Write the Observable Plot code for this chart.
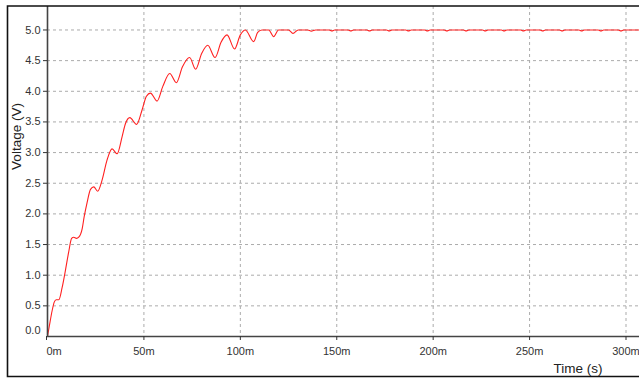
<!DOCTYPE html>
<html>
<head>
<meta charset="utf-8">
<script src="https://cdn.jsdelivr.net/npm/d3@7"></script>
<script src="https://cdn.jsdelivr.net/npm/@observablehq/plot@0.6"></script>
<style>
  html, body { margin: 0; padding: 0; background: #fff; }
</style>
</head>
<body>
<div id="chart"></div>
<script>
// Time in milliseconds and voltage in volts
const timeMs = [
  0, 1, 2.4, 3.5, 4.5, 5.9, 7.6, 9.3, 11, 12.5, 13.6, 15, 16.2, 18, 19, 20.5, 22.3, 24,
  26, 28.3, 30.9, 33.5, 36.1, 38.7, 40.4, 42.7, 46.2, 49, 51.3, 53.4, 56.8, 59.8, 63.4,
  66.8, 70, 73.7, 76.8, 80, 83.1, 86.9, 90, 93.1, 97, 100, 102.6, 106.9, 109, 111.2,
  114.7, 117.3, 119.8, 125, 127.3, 130, 135, 136.8, 139,
  146.1, 147.5, 148.9, 155.9, 157.3, 158.7, 165.6, 167, 168.4, 175.8, 177.2, 178.6,
  185.8, 187.2, 188.6, 195.6, 197, 198.4, 205.7, 207.1, 208.5, 215.7, 217.1, 218.5,
  225.6, 227, 228.4, 235.4, 236.8, 238.2, 245.4, 246.8, 248.2, 255.4, 256.8, 258.2,
  265.5, 266.9, 268.3, 275.6, 277, 278.4, 285.6, 287, 288.4, 296, 297.4, 298.8, 307
];
const voltage = [
  0, 0.18, 0.42, 0.56, 0.60, 0.60, 0.80, 1.08, 1.38, 1.60, 1.62, 1.60, 1.62, 1.76, 1.95, 2.18, 2.40, 2.44,
  2.37, 2.55, 2.88, 3.06, 2.98, 3.26, 3.47, 3.57, 3.46, 3.69, 3.92, 3.97, 3.84, 4.08, 4.29,
  4.14, 4.40, 4.55, 4.36, 4.62, 4.75, 4.55, 4.80, 4.92, 4.69, 4.92, 5.00, 4.81, 4.96, 5.00,
  5.00, 4.89, 5.00, 5.00, 4.945, 5.00, 5.00, 4.98, 5.00,
  5.00, 4.985, 5.00, 5.00, 4.985, 5.00, 5.00, 4.985, 5.00, 5.00, 4.985, 5.00,
  5.00, 4.985, 5.00, 5.00, 4.985, 5.00, 5.00, 4.985, 5.00, 5.00, 4.985, 5.00,
  5.00, 4.985, 5.00, 5.00, 4.985, 5.00, 5.00, 4.985, 5.00, 5.00, 4.985, 5.00,
  5.00, 4.985, 5.00, 5.00, 4.985, 5.00, 5.00, 4.985, 5.00, 5.00, 4.985, 5.00, 5.00
];

const xTicks = [0, 50, 100, 150, 200, 250, 300];
const xTickLabels = ["0m", "50m", "100m", "150m", "200m", "250m", "300m"];
const yTicks = [0, 0.5, 1, 1.5, 2, 2.5, 3, 3.5, 4, 4.5, 5];
const yTickLabels = ["0.0", "0.5", "1.0", "1.5", "2.0", "2.5", "3.0", "3.5", "4.0", "4.5", "5.0"];
const xTitle = "Time (s)";
const yTitle = "Voltage (V)";

const data = timeMs.map((t, i) => ({t, v: voltage[i]}));
const xLabel = d => xTickLabels[xTicks.indexOf(d)];
const yLabel = d => yTickLabels[yTicks.indexOf(d)];

const gridStyle = {stroke: "#ababab", strokeOpacity: 1, strokeDasharray: "3,3"};
const axisColor = "#333";

const chart = Plot.plot({
  width: 639,
  height: 378,
  marginLeft: 47,
  marginRight: 0,
  marginTop: 6,
  marginBottom: 42,
  x: {domain: [0, 307]},
  y: {domain: [0, 5.383]},
  style: {fontFamily: "'Liberation Sans', Arial, sans-serif", fontSize: "11px", background: "#fff", color: "#222"},
  marks: [
    Plot.gridX(xTicks.slice(1), gridStyle),
    Plot.gridY(yTicks.slice(1), gridStyle),
    Plot.line(data, {x: "t", y: "v", stroke: "#ff2020", strokeWidth: 1.1, curve: "monotone-x"}),
    Plot.ruleX([0], {stroke: "#444", strokeWidth: 1.6}),
    Plot.ruleY([0], {stroke: "#444", strokeWidth: 1.6}),
    Plot.axisX(xTicks.slice(1), {tickSize: 4, tickPadding: 7, tickFormat: xLabel, label: null, color: axisColor, fontSize: 11}),
    Plot.axisX([0], {tickSize: 4, tickPadding: 7, tickFormat: xLabel, label: null, color: axisColor, fontSize: 11, textAnchor: "start", dx: -1}),
    Plot.axisY(yTicks.slice(1), {tickSize: 4, tickPadding: 3, tickFormat: yLabel, label: null, color: axisColor, fontSize: 11}),
    Plot.axisY([0], {tickSize: 0, tickPadding: 7, tickFormat: yLabel, label: null, color: axisColor, fontSize: 11, dy: -6}),
    Plot.text([yTitle], {text: d => d, frameAnchor: "left", dx: -31, dy: -35, rotate: -90, fontSize: 13.5, fill: "#222", textAnchor: "middle", lineAnchor: "middle"}),
    Plot.text([xTitle], {text: d => d, frameAnchor: "bottom-right", dx: -61.5, dy: 32, fontSize: 13.5, fill: "#222", textAnchor: "middle", lineAnchor: "middle"})
  ]
});

// outer window frame (decoration)
d3.select(chart).append("path")
  .attr("d", "M639,6 H7.5 V376.5 H639")
  .attr("fill", "none")
  .attr("stroke", "#111")
  .attr("stroke-width", 1.6);

document.getElementById("chart").appendChild(chart);
</script>
</body>
</html>
